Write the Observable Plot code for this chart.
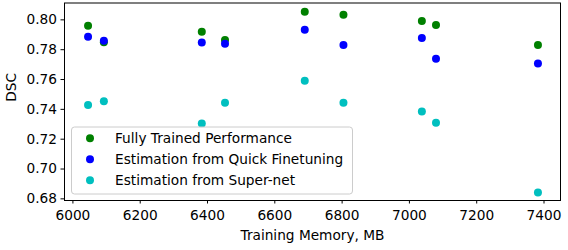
<!DOCTYPE html>
<html>
<head>
<meta charset="utf-8">
<script src="https://cdn.jsdelivr.net/npm/d3@7"></script>
<script src="https://cdn.jsdelivr.net/npm/@observablehq/plot@0.6"></script>
<style>
  html, body { margin: 0; padding: 0; background: #fff; }
  #chart svg { display: block; }
</style>
</head>
<body>
<div id="chart"></div>
<script>
// Data
const memory = [6045, 6092, 6383, 6452, 6689, 6804, 7037, 7079, 7382];
const fullyTrained = [0.796, 0.785, 0.792, 0.7865, 0.8054, 0.8034, 0.7993, 0.7966, 0.7832];
const quickFinetune = [0.7886, 0.786, 0.7848, 0.7839, 0.7933, 0.7832, 0.7879, 0.7739, 0.7707];
const superNet = [0.7430, 0.7454, 0.7305, 0.7444, 0.7591, 0.7444, 0.7385, 0.7310, 0.6842];
const seriesNames = ["Fully Trained Performance", "Estimation from Quick Finetuning", "Estimation from Super-net"];
const seriesColors = ["#008000", "#0000ff", "#00bfbf"];
const xTicks = [6000, 6200, 6400, 6600, 6800, 7000, 7200, 7400];
const yTicks = [0.68, 0.70, 0.72, 0.74, 0.76, 0.78, 0.80];

const seriesValues = [fullyTrained, quickFinetune, superNet];
const rows = [];
seriesValues.forEach((vals, s) => vals.forEach((v, i) => rows.push({x: memory[i], y: v, s: seriesNames[s]})));

const font = "DejaVu Sans";
const fs = 13.7;
const dotR = 4;

const plot = Plot.plot({
  width: 568,
  height: 250,
  marginLeft: 64,
  marginRight: 8,
  marginTop: 2.5,
  marginBottom: 50,
  style: {fontFamily: font, fontSize: fs + "px", color: "#000", background: "#fff"},
  x: {domain: [5975, 7449]},
  y: {domain: [0.6789, 0.8113]},
  color: {domain: seriesNames, range: seriesColors},
  marks: [
    Plot.dot(rows, {x: "x", y: "y", fill: "s", r: dotR, stroke: null}),
    Plot.frame({stroke: "#000", strokeWidth: 1}),
    Plot.axisX({ticks: xTicks, tickFormat: d3.format("d"), tickSize: 3.5, tickPadding: 6.5, label: null, fontSize: fs}),
    Plot.axisY({ticks: yTicks, tickFormat: d3.format(".2f"), tickSize: 3.5, tickPadding: 4, label: null, fontSize: fs}),
    Plot.text(["Training Memory, MB"], {frameAnchor: "bottom", dy: 39, fontSize: fs}),
    Plot.text(["DSC"], {frameAnchor: "left", rotate: -90, dx: -53, fontSize: fs})
  ]
});

document.getElementById("chart").appendChild(plot);

// Legend (drawn inside the SVG, lower-left of the frame)
const svg = d3.select(plot);
const lg = svg.append("g")
  .attr("font-family", font)
  .attr("font-size", fs)
  .attr("text-anchor", "start");
lg.append("rect")
  .attr("x", 71.5).attr("y", 127).attr("width", 281).attr("height", 67)
  .attr("rx", 3).attr("fill", "#fff").attr("fill-opacity", 0.8)
  .attr("stroke", "#cccccc").attr("stroke-width", 1);
seriesNames.forEach((name, i) => {
  const cy = 138.3 + i * 21;
  lg.append("circle").attr("cx", 90).attr("cy", cy).attr("r", dotR).attr("fill", seriesColors[i]);
  lg.append("text").attr("x", 115).attr("y", cy).attr("dy", "0.35em")
    .attr("text-anchor", "start").attr("fill", "#000").text(name);
});
</script>
</body>
</html>
